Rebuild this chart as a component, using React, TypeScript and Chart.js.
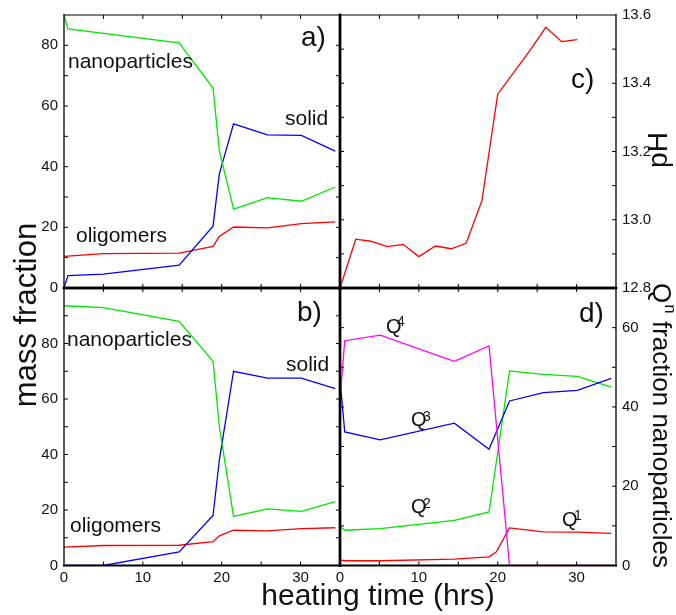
import React, { useEffect, useRef } from "react";
import { Chart, registerables } from "chart.js";
Chart.register(...registerables);

const FONT = '"Liberation Sans", Arial, Helvetica, sans-serif';

// ---------- data ----------
// shared x axis (heating time, hrs)
const xTickLabels = [0, 10, 20, 30];

// panel a
const aNanoX = [0, 0.5, 14.6, 18.9, 19.7, 21.5, 25.8, 30.1, 34.4];
const aNanoY = [90, 85.4, 80.8, 65.9, 45.2, 26.0, 29.8, 28.6, 33.3];
const aSolidX = [0, 0.5, 5.0, 14.6, 18.9, 19.7, 21.5, 25.8, 30.1, 34.4];
const aSolidY = [0, 4.1, 4.6, 7.5, 20.4, 37.6, 54.1, 50.5, 50.3, 45.1];
const aOligoX = [0, 5.0, 14.6, 18.9, 19.7, 21.5, 25.8, 30.1, 34.4];
const aOligoY = [10.4, 11.3, 11.5, 13.7, 17.0, 20.1, 19.8, 21.2, 21.8];
const aYTicks = [0, 20, 40, 60, 80];

// panel b
const bNanoX = [0, 5, 14.6, 18.9, 19.7, 21.5, 25.8, 30.1, 34.4];
const bNanoY = [93.6, 92.9, 88.0, 73.6, 50.0, 17.7, 20.4, 19.5, 23.0];
const bSolidX = [0, 5, 14.6, 18.9, 19.7, 21.5, 25.8, 30.1, 34.4];
const bSolidY = [0, 0, 4.9, 18.0, 38.0, 70.0, 67.5, 67.5, 63.7];
const bOligoX = [0, 5, 14.6, 18.9, 19.7, 21.5, 25.8, 30.1, 34.4];
const bOligoY = [6.6, 7.2, 7.3, 8.6, 10.7, 12.7, 12.5, 13.3, 13.6];
const bYTicks = [0, 20, 40, 60, 80];

// panel c (pH)
const cX = [0, 2.0, 3.9, 6.0, 8.0, 10.0, 12.1, 14.1, 16.0, 18.0, 20.0, 24.1, 26.1, 28.1, 30.1];
const cPH = [12.8, 12.943, 12.937, 12.921, 12.928, 12.892, 12.923, 12.915, 12.931, 13.056, 13.368, 13.496, 13.564, 13.522, 13.528];
const cYTicks = [12.8, 13.0, 13.2, 13.4, 13.6];

// panel d (Q^n fractions)
const dX = [0, 0.6, 5.1, 14.5, 18.9, 21.5, 25.8, 30.1, 34.4];
const dQ4 = [42, 56.7, 58.1, 51.5, 55.4, 0, 0, 0, 0];
const dQ3 = [47, 33.7, 31.7, 35.9, 29.3, 41.5, 43.6, 44.2, 47.2];
const dQ2 = [9.9, 8.9, 9.3, 11.4, 13.5, 49.1, 48.2, 47.7, 45.0];
const dQ1X = [0, 0.6, 5.1, 14.5, 18.9, 19.8, 21.5, 25.8, 30.1, 34.4];
const dQ1 = [1.4, 1.2, 1.2, 1.6, 2.2, 3.4, 9.5, 8.5, 8.4, 8.1];
const dYTicks = [0, 20, 40, 60];

// ---------- styles ----------
const GREEN = "#00e600";
const BLUE = "#0000ff";
const RED = "#ff0000";
const MAGENTA = "#ff00ff";
const TXT = "#111";

const pts = (xs: number[], ys: number[]) => xs.map((x, i) => ({ x, y: ys[i] }));
const ds = (xs: number[], ys: number[], color: string) => ({
  data: pts(xs, ys),
  borderColor: color,
  backgroundColor: color,
  borderWidth: 1.3,
  pointRadius: 0,
  tension: 0,
  fill: false,
});

type T = { text: string; x: number; y: number; size: number };
type Panel = {
  area: { l: number; t: number; r: number; b: number };
  yMin: number;
  yMax: number;
  yMinor: number;
  yTicks: number[];
  yPos: "left" | "right";
  yDigits: number;
  showX: boolean;
  edges: { top: number; left: number; right: number; bottom: number };
  datasets: any[];
  texts: T[];
};

const MID = 2.4;
const PANELS: Panel[] = [
  {
    area: { l: 64, t: 12.5, r: 340, b: 288 },
    yMin: 0, yMax: 90, yMinor: 10, yTicks: aYTicks, yPos: "left", yDigits: 0, showX: false,
    edges: { top: 1, left: 1.3, right: MID, bottom: MID },
    datasets: [ds(aNanoX, aNanoY, GREEN), ds(aSolidX, aSolidY, BLUE), ds(aOligoX, aOligoY, RED)],
    texts: [
      { text: "nanoparticles", x: 68, y: 68, size: 21 },
      { text: "solid", x: 285, y: 125, size: 21 },
      { text: "oligomers", x: 76, y: 242, size: 21 },
      { text: "a)", x: 301, y: 46, size: 28 },
    ],
  },
  {
    area: { l: 64, t: 288, r: 340, b: 565.5 },
    yMin: 0, yMax: 100, yMinor: 10, yTicks: bYTicks, yPos: "left", yDigits: 0, showX: true,
    edges: { top: MID, left: 1.3, right: MID, bottom: 2 },
    datasets: [ds(bNanoX, bNanoY, GREEN), ds(bSolidX, bSolidY, BLUE), ds(bOligoX, bOligoY, RED)],
    texts: [
      { text: "nanoparticles", x: 67, y: 346, size: 21 },
      { text: "solid", x: 286, y: 371, size: 21 },
      { text: "oligomers", x: 70, y: 532, size: 21 },
      { text: "b)", x: 297, y: 321, size: 28 },
    ],
  },
  {
    area: { l: 340, t: 12.5, r: 616, b: 288 },
    yMin: 12.8, yMax: 13.6, yMinor: 0.1, yTicks: cYTicks, yPos: "right", yDigits: 1, showX: false,
    edges: { top: 1, left: MID, right: 1.3, bottom: MID },
    datasets: [ds(cX, cPH, RED)],
    texts: [{ text: "c)", x: 571, y: 88, size: 28 }],
  },
  {
    area: { l: 340, t: 288, r: 616, b: 565.5 },
    yMin: 0, yMax: 70, yMinor: 10, yTicks: dYTicks, yPos: "right", yDigits: 0, showX: true,
    edges: { top: MID, left: MID, right: 1.3, bottom: 2 },
    datasets: [ds(dX, dQ4, MAGENTA), ds(dX, dQ3, BLUE), ds(dX, dQ2, GREEN), ds(dQ1X, dQ1, RED)],
    texts: [
      { text: "Q", x: 386, y: 333, size: 20 },
      { text: "4", x: 397, y: 326, size: 14 },
      { text: "Q", x: 411, y: 426, size: 20 },
      { text: "3", x: 423, y: 421, size: 14 },
      { text: "Q", x: 411, y: 513, size: 20 },
      { text: "2", x: 423, y: 508, size: 14 },
      { text: "Q", x: 562, y: 526, size: 20 },
      { text: "1", x: 574, y: 520, size: 14 },
      { text: "d)", x: 579, y: 322, size: 28 },
    ],
  },
];

const W = 676;
const H = 615;
const Y_AXIS_W = 50;
const X_AXIS_H = 30;

const framePlugin = {
  id: "frameTicks",
  afterDatasetsDraw(chart: any, _args: any, opts: any) {
    const p: Panel = opts.panel;
    const { ctx, chartArea: a, scales } = chart;
    const xs = scales.x;
    const ys = scales.y;
    const line = (x1: number, y1: number, x2: number, y2: number) => {
      ctx.beginPath();
      ctx.moveTo(x1, y1);
      ctx.lineTo(x2, y2);
      ctx.stroke();
    };
    ctx.save();
    ctx.strokeStyle = "#000";
    ctx.lineWidth = 1;
    const L = 4;
    for (let v = 5; v < 35; v += 5) {
      const px = xs.getPixelForValue(v);
      line(px, a.bottom, px, a.bottom - L);
      line(px, a.top, px, a.top + L);
    }
    const n = Math.round((p.yMax - p.yMin) / p.yMinor);
    for (let i = 1; i < n; i++) {
      const py = ys.getPixelForValue(p.yMin + i * p.yMinor);
      line(a.left, py, a.left + L, py);
      line(a.right, py, a.right - L, py);
    }
    const e = p.edges;
    ctx.lineCap = "square";
    ctx.lineWidth = e.top; line(a.left, a.top, a.right, a.top);
    ctx.lineWidth = e.bottom; line(a.left, a.bottom, a.right, a.bottom);
    ctx.lineWidth = e.left; line(a.left, a.top, a.left, a.bottom);
    ctx.lineWidth = e.right; line(a.right, a.top, a.right, a.bottom);
    ctx.restore();
  },
  afterDraw(chart: any, _args: any, opts: any) {
    const p: Panel = opts.panel;
    const ctx = chart.ctx;
    ctx.save();
    ctx.fillStyle = TXT;
    ctx.textAlign = "left";
    ctx.textBaseline = "alphabetic";
    for (const t of p.texts) {
      ctx.font = `${t.size}px ${FONT}`;
      ctx.fillText(t.text, t.x, t.y);
    }
    if (opts.titles) {
      // mass fraction
      ctx.font = `31px ${FONT}`;
      ctx.save();
      ctx.translate(36, 315);
      ctx.rotate(-Math.PI / 2);
      ctx.textAlign = "center";
      ctx.fillText("mass fraction", 0, 0);
      ctx.restore();
      // heating time
      ctx.font = `30px ${FONT}`;
      ctx.textAlign = "center";
      ctx.fillText("heating time (hrs)", 378, 605);
      // pH
      ctx.font = `28px ${FONT}`;
      ctx.save();
      ctx.translate(667, 150);
      ctx.rotate(-Math.PI / 2);
      ctx.textAlign = "center";
      ctx.fillText("pH", 0, 0);
      ctx.restore();
      // Q^n fraction nanoparticles
      ctx.save();
      ctx.translate(653, 283);
      ctx.rotate(Math.PI / 2);
      ctx.textAlign = "left";
      ctx.font = `26px ${FONT}`;
      ctx.fillText("Q", 0, 0);
      const qw = ctx.measureText("Q").width;
      ctx.font = `17px ${FONT}`;
      ctx.fillText("n", qw + 1, -12);
      const nw = ctx.measureText("n").width;
      ctx.font = `26px ${FONT}`;
      ctx.fillText(" fraction nanoparticles", qw + nw + 1, 0);
      ctx.restore();
    }
    ctx.restore();
  },
};

function makeConfig(p: Panel, titles: boolean): any {
  const tickFont = { family: FONT, size: 15 };
  const padding = {
    left: p.yPos === "left" ? p.area.l - Y_AXIS_W : p.area.l,
    right: p.yPos === "right" ? W - p.area.r - Y_AXIS_W : W - p.area.r,
    top: p.area.t,
    bottom: p.showX ? H - p.area.b - X_AXIS_H : H - p.area.b,
  };
  return {
    type: "line",
    data: { datasets: p.datasets },
    plugins: [framePlugin],
    options: {
      responsive: false,
      animation: false,
      events: [],
      layout: { padding },
      plugins: {
        legend: { display: false },
        title: { display: false },
        tooltip: { enabled: false },
        frameTicks: { panel: p, titles },
      },
      scales: {
        x: {
          type: "linear",
          min: 0,
          max: 35,
          display: p.showX,
          grid: { display: false, drawTicks: false },
          border: { display: false },
          ticks: { padding: 3, font: tickFont, color: TXT, maxRotation: 0, autoSkip: false },
          afterBuildTicks: (s: any) => {
            s.ticks = xTickLabels.map((v) => ({ value: v }));
          },
          afterFit: (s: any) => {
            s.height = p.showX ? X_AXIS_H : 0;
          },
        },
        y: {
          type: "linear",
          position: p.yPos,
          min: p.yMin,
          max: p.yMax,
          grid: { display: false, drawTicks: false },
          border: { display: false },
          ticks: {
            padding: 6,
            font: tickFont,
            color: TXT,
            autoSkip: false,
            callback: (v: number) => Number(v).toFixed(p.yDigits),
          },
          afterBuildTicks: (s: any) => {
            s.ticks = p.yTicks.map((v) => ({ value: v }));
          },
          afterFit: (s: any) => {
            s.width = Y_AXIS_W;
          },
        },
      },
    },
  };
}

export default function App() {
  const r0 = useRef<HTMLCanvasElement>(null);
  const r1 = useRef<HTMLCanvasElement>(null);
  const r2 = useRef<HTMLCanvasElement>(null);
  const r3 = useRef<HTMLCanvasElement>(null);
  const refs = [r0, r1, r2, r3];
  useEffect(() => {
    const charts = PANELS.map(
      (p, i) => new Chart(refs[i].current as HTMLCanvasElement, makeConfig(p, i === 3))
    );
    return () => charts.forEach((c) => c.destroy());
  }, []);
  return (
    <div style={{ position: "absolute", left: 0, top: 0, width: W, height: H, background: "#fff" }}>
      {PANELS.map((_, i) => (
        <canvas
          key={i}
          ref={refs[i]}
          width={W}
          height={H}
          style={{ position: "absolute", left: 0, top: 0, width: W, height: H }}
        />
      ))}
    </div>
  );
}
